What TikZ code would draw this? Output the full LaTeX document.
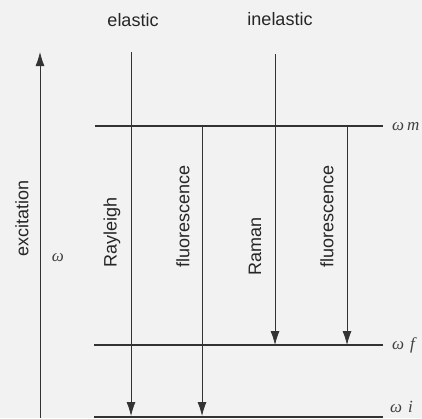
\documentclass[tikz,border=0pt]{standalone}
\usepackage{fontspec}
\setsansfont{Liberation Sans}
\setmainfont{Liberation Serif}
\usetikzlibrary{arrows.meta}
\begin{document}
\begin{tikzpicture}[x=1pt,y=-1pt,
  level/.style={line width=1.6pt,draw=black!80},
  trans/.style={line width=0.8pt,draw=black!80,-{Latex[length=14pt,width=9pt]}},
  lab/.style={font=\sffamily\fontsize{18}{20}\selectfont,text=black!85,inner sep=0pt},
  vlab/.style={lab,rotate=90},
  wlab/.style={font=\itshape\fontsize{17}{18}\selectfont,text=black!75,inner sep=0pt,anchor=west}]
\fill[black!5] (0,0) rectangle (422,418);
\useasboundingbox (0,0) rectangle (422,418);
% levels
\coordinate (mL) at (95,126); \coordinate (mR) at (383,126);
\coordinate (fL) at (94,345); \coordinate (fR) at (383,345);
\coordinate (iL) at (94,417); \coordinate (iR) at (383,417);
\draw[level] (mL) -- (mR);
\draw[level] (fL) -- (fR);
\draw[level] (iL) -- (iR);
\node[wlab] (wm) at (392,127) {ω\hspace{3pt}m};
\node[wlab] (wf) at (392,345) {ω\hspace{6pt}f};
\node[wlab] (wi) at (390,407) {ω\hspace{6pt}i};
% excitation
\coordinate (e0) at (40,418); \coordinate (e1) at (40,52);
\draw[trans] (e0) -- (e1);
\node[vlab] (exc) at (22,218) {excitation};
\node[wlab,anchor=center] (w) at (58,258) {ω};
% top labels
\node[lab] (el) at (133,20) {elastic};
\node[lab] (inel) at (280,19) {inelastic};
% elastic
\coordinate (a0) at (131,52); \coordinate (a1) at (131,416);
\draw[trans] (a0) -- (a1);
\node[vlab] (ray) at (112,232) {Rayleigh};
% fluorescence 1
\coordinate (b0) at (202,126); \coordinate (b1) at (202,416);
\draw[trans] (b0) -- (b1);
\node[vlab] (fl1) at (183,216) {fluorescence};
% inelastic
\coordinate (c0) at (275,54); \coordinate (c1) at (275,345);
\draw[trans] (c0) -- (c1);
\node[vlab] (ram) at (255,246) {Raman};
% fluorescence 2
\coordinate (d0) at (347,126); \coordinate (d1) at (347,345);
\draw[trans] (d0) -- (d1);
\node[vlab] (fl2) at (327,216) {fluorescence};
\end{tikzpicture}
\end{document}
